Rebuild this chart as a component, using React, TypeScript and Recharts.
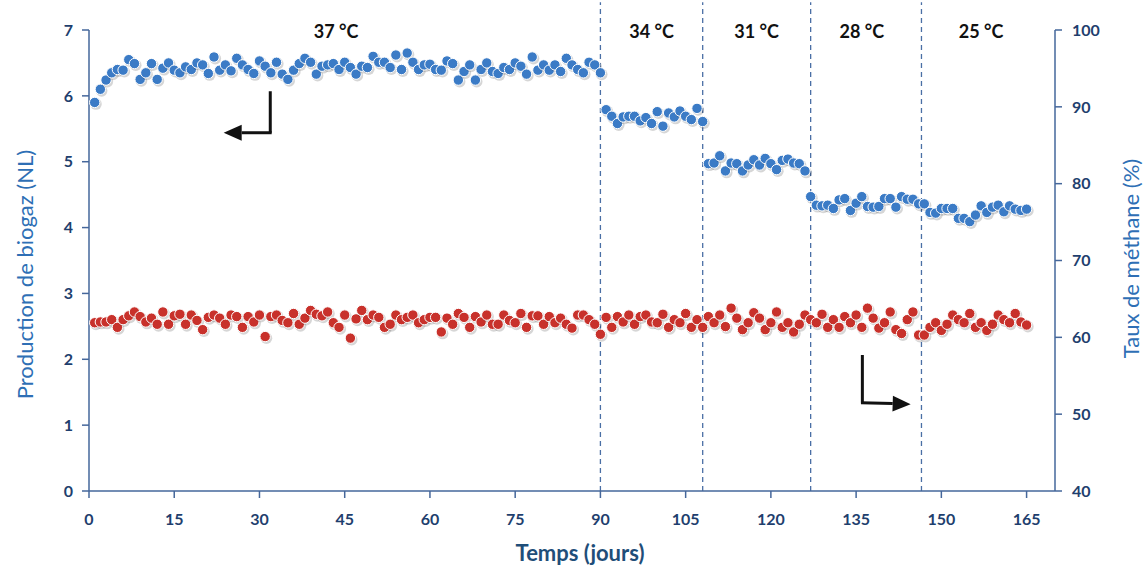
import React from 'react';
import { ComposedChart, Scatter, XAxis, YAxis, ReferenceLine, ReferenceDot } from 'recharts';

// sampling days (one measurement per day)
const days = Array.from({ length: 165 }, (_, i) => i + 1);

// biogas production (NL), left axis
const biogas = [
  5.90, 6.10, 6.24, 6.35, 6.40, 6.39, 6.55, 6.49, 6.25, 6.35,
  6.49, 6.25, 6.42, 6.50, 6.39, 6.35, 6.44, 6.40, 6.50, 6.47,
  6.34, 6.59, 6.39, 6.47, 6.38, 6.57, 6.47, 6.40, 6.34, 6.53,
  6.45, 6.35, 6.51, 6.33, 6.25, 6.39, 6.49, 6.57, 6.51, 6.33,
  6.45, 6.47, 6.49, 6.40, 6.51, 6.43, 6.33, 6.45, 6.43, 6.60,
  6.51, 6.51, 6.43, 6.62, 6.40, 6.65, 6.51, 6.40, 6.47, 6.48,
  6.40, 6.39, 6.53, 6.49, 6.24, 6.37, 6.47, 6.24, 6.40, 6.50,
  6.37, 6.34, 6.43, 6.40, 6.50, 6.45, 6.33, 6.59, 6.39, 6.47,
  6.39, 6.47, 6.37, 6.57, 6.47, 6.40, 6.35, 6.51, 6.47, 6.35,
  5.79, 5.69, 5.58, 5.68, 5.69, 5.69, 5.62, 5.67, 5.58, 5.76,
  5.54, 5.74, 5.68, 5.77, 5.69, 5.64, 5.81, 5.61, 4.97, 4.98,
  5.09, 4.86, 4.98, 4.97, 4.86, 4.95, 5.03, 4.95, 5.05, 4.97,
  4.88, 5.02, 5.04, 4.98, 4.97, 4.86, 4.47, 4.34, 4.33, 4.34,
  4.29, 4.42, 4.44, 4.26, 4.37, 4.47, 4.32, 4.31, 4.32, 4.44,
  4.44, 4.31, 4.47, 4.43, 4.43, 4.36, 4.36, 4.23, 4.22, 4.29,
  4.29, 4.29, 4.14, 4.14, 4.09, 4.19, 4.33, 4.23, 4.31, 4.34,
  4.24, 4.33, 4.28, 4.26, 4.28,
];

// methane content (%), right axis
const methane = [
  61.9, 62.0, 62.0, 62.3, 61.3, 62.3, 62.8, 63.3, 62.7, 62.0,
  62.5, 61.7, 63.3, 61.7, 62.8, 63.0, 61.7, 62.9, 62.2, 61.0,
  62.6, 62.9, 62.5, 61.7, 62.9, 62.7, 61.3, 62.7, 62.0, 62.9,
  60.1, 62.7, 62.9, 62.2, 61.9, 63.1, 61.7, 62.5, 63.5, 63.0,
  62.8, 63.3, 61.9, 61.3, 62.9, 59.9, 62.4, 63.5, 62.3, 62.9,
  62.6, 61.3, 61.7, 62.9, 62.3, 62.6, 62.9, 61.9, 62.3, 62.6,
  62.6, 60.7, 62.5, 61.7, 63.1, 62.6, 61.3, 62.7, 62.0, 62.9,
  61.7, 61.7, 62.9, 62.2, 61.9, 63.1, 61.3, 62.8, 62.8, 61.7,
  62.7, 61.9, 62.5, 61.7, 61.2, 62.9, 62.9, 62.3, 61.7, 60.4,
  62.6, 61.3, 62.7, 62.0, 62.9, 61.7, 62.7, 62.9, 62.0, 61.9,
  63.0, 61.3, 62.3, 61.9, 63.1, 61.3, 62.3, 61.3, 62.7, 61.9,
  62.9, 61.4, 63.8, 62.5, 61.0, 61.9, 63.2, 62.5, 61.0, 61.9,
  63.3, 61.3, 61.9, 60.7, 61.7, 62.9, 62.3, 61.9, 63.0, 61.3,
  62.3, 61.3, 62.7, 61.9, 62.9, 61.3, 63.8, 62.5, 61.2, 61.9,
  63.3, 61.0, 60.5, 62.3, 63.3, 60.3, 60.3, 61.3, 61.9, 60.9,
  61.7, 62.9, 62.3, 61.9, 63.1, 61.3, 61.9, 60.9, 61.7, 62.9,
  62.3, 61.9, 63.1, 62.0, 61.6,
];

// temperature phases: boundaries (days) and label positions
const phaseBreaks = [90, 108, 127, 146.5];
const phaseLabels = ['37 °C', '34 °C', '31 °C', '28 °C', '25 °C'];
const phaseLabelDays = [43.5, 99, 117.5, 136, 157];

const xTicks = [0, 15, 30, 45, 60, 75, 90, 105, 120, 135, 150, 165];
const leftTicks = [0, 1, 2, 3, 4, 5, 6, 7];
const rightTicks = [40, 50, 60, 70, 80, 90, 100];

const biogasData = days.map((d, i) => ({ day: d, value: biogas[i] }));
const methaneData = days.map((d, i) => ({ day: d, value: methane[i] }));

const AXIS = '#45679b';
const TICK = '#1f3f6e';
const TITLE = '#2e6fb5';

const bead = (color: string) => (props: any) => {
  const { cx, cy } = props;
  if (cx == null || cy == null) return <g />;
  return (
    <g>
      <circle cx={cx + 1.3} cy={cy + 1.6} r={5.8} fill="#000" opacity={0.16} />
      <circle cx={cx} cy={cy} r={5.2} fill={color} stroke="#fff" strokeWidth={1} />
    </g>
  );
};

const arrowLine = (props: any) => {
  const { x1, y1, x2, y2 } = props;
  const dx = x2 - x1;
  const dy = y2 - y1;
  const len = Math.sqrt(dx * dx + dy * dy) || 1;
  const ux = dx / len;
  const uy = dy / len;
  const head = 18;
  const half = 8;
  const bx = x2 - ux * head;
  const by = y2 - uy * head;
  return (
    <g>
      <line x1={x1} y1={y1} x2={bx} y2={by} stroke="#111" strokeWidth={3} />
      <polygon
        points={`${x2},${y2} ${bx - uy * half},${by + ux * half} ${bx + uy * half},${by - ux * half}`}
        fill="#111"
      />
    </g>
  );
};

const tickStyle = { fill: TICK, fontSize: 16, fontWeight: 700 };

export default function App() {
  return (
    <div style={{ position: 'absolute', left: 0, top: 0, background: '#fff', fontFamily: 'Lato, "Open Sans", sans-serif' }}>
      <ComposedChart width={1143} height={569} margin={{ top: 30, right: 0, bottom: 0, left: 0 }}>
        <XAxis
          type="number"
          dataKey="day"
          domain={[0, 170]}
          ticks={xTicks}
          allowDataOverflow
          height={78}
          stroke={AXIS}
          strokeWidth={1.5}
          tickSize={7}
          tickMargin={16}
          tick={tickStyle}
          label={{
            content: ({ viewBox }: any) => (
              <text
                x={viewBox.x + viewBox.width / 2 + 8}
                y={viewBox.y + 70}
                textAnchor="middle"
                fill="#1f4e79"
                fontSize={22}
                fontWeight={700}
              >
                Temps (jours)
              </text>
            ),
          }}
        />
        <YAxis
          yAxisId="left"
          type="number"
          domain={[0, 7]}
          ticks={leftTicks}
          width={89}
          stroke={AXIS}
          strokeWidth={1.5}
          tickSize={7}
          tickMargin={9}
          tick={tickStyle}
          label={{
            content: ({ viewBox }: any) => {
              const x = viewBox.x + 24;
              const y = viewBox.y + viewBox.height / 2 + 14;
              return (
                <text x={x} y={y} transform={`rotate(-90, ${x}, ${y})`} textAnchor="middle" dominantBaseline="central" fill={TITLE} fontSize={22}>
                  Production de biogaz (NL)
                </text>
              );
            },
          }}
        />
        <YAxis
          yAxisId="right"
          orientation="right"
          type="number"
          domain={[40, 100]}
          ticks={rightTicks}
          width={88}
          stroke={AXIS}
          strokeWidth={1.5}
          tickSize={7}
          tickMargin={10}
          tick={tickStyle}
          label={{
            content: ({ viewBox }: any) => {
              const x = viewBox.x + 75;
              const y = viewBox.y + viewBox.height / 2 - 2;
              return (
                <text x={x} y={y} transform={`rotate(-90, ${x}, ${y})`} textAnchor="middle" dominantBaseline="central" fill={TITLE} fontSize={22}>
                  Taux de méthane (%)
                </text>
              );
            },
          }}
        />

        {phaseBreaks.map((d) => (
          <ReferenceLine
            key={`brk-${d}`}
            yAxisId="left"
            ifOverflow="visible"
            segment={[{ x: d, y: 0 }, { x: d, y: 7.42 }]}
            stroke="#4a6fa5"
            strokeWidth={1.3}
            strokeDasharray="5 4"
          />
        ))}

        {phaseLabels.map((t, i) => (
          <ReferenceDot
            key={t}
            yAxisId="left"
            x={phaseLabelDays[i]}
            y={6.97}
            r={0}
            ifOverflow="visible"
            label={{ value: t, position: 'center', fill: '#111', fontSize: 18, fontWeight: 700 }}
          />
        ))}

        {/* arrow pointing to the left axis (biogas) */}
        <ReferenceLine yAxisId="left" ifOverflow="visible" segment={[{ x: 31.9, y: 6.07 }, { x: 31.9, y: 5.44 }]} stroke="#111" strokeWidth={3} />
        <ReferenceLine yAxisId="left" ifOverflow="visible" segment={[{ x: 32.15, y: 5.44 }, { x: 23.7, y: 5.44 }]} shape={arrowLine} />

        {/* arrow pointing to the right axis (methane) */}
        <ReferenceLine yAxisId="right" ifOverflow="visible" segment={[{ x: 136.1, y: 57.7 }, { x: 136.1, y: 51.5 }]} stroke="#111" strokeWidth={3} />
        <ReferenceLine yAxisId="right" ifOverflow="visible" segment={[{ x: 135.85, y: 51.5 }, { x: 144.6, y: 51.3 }]} shape={arrowLine} />

        <Scatter yAxisId="right" data={methaneData} dataKey="value" shape={bead('#c8312b')} isAnimationActive={false} />
        <Scatter yAxisId="left" data={biogasData} dataKey="value" shape={bead('#3b7bc6')} isAnimationActive={false} />
      </ComposedChart>
    </div>
  );
}
